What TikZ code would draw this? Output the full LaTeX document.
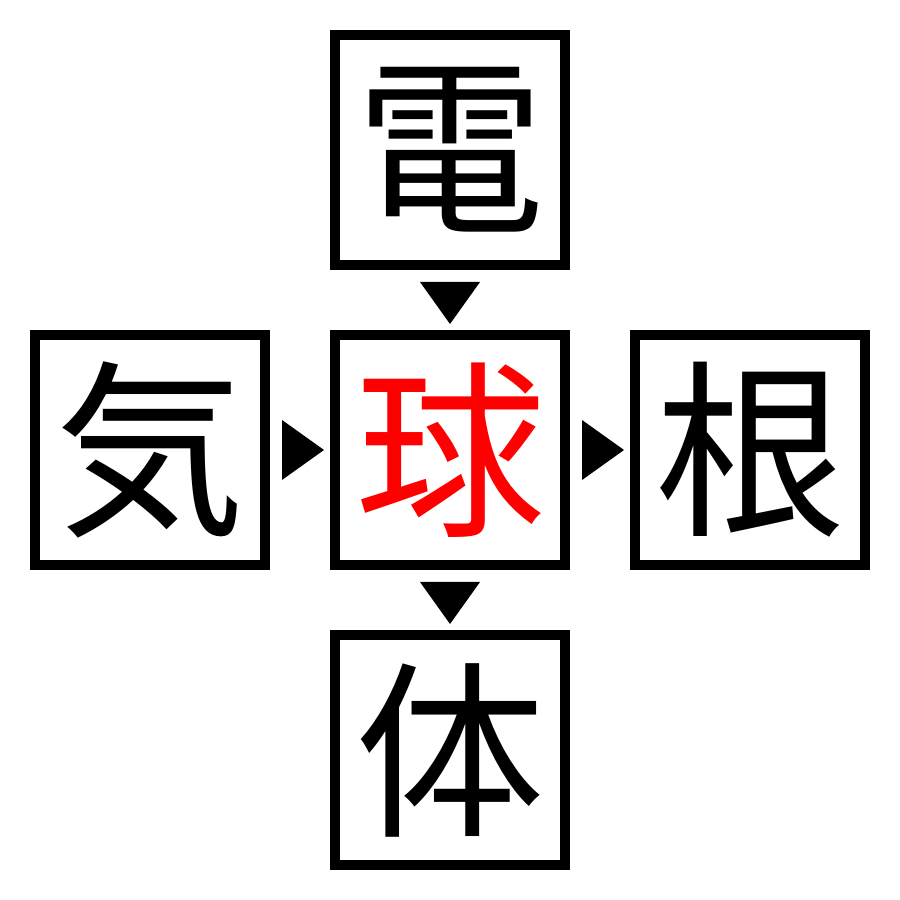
\documentclass[tikz,border=0pt]{standalone}
\usepackage{fontspec}
\newfontfamily\cjk{Noto Sans CJK JP}
\usetikzlibrary{positioning}
\tikzset{kj/.style = {rectangle, draw, line width=1mm, minimum size=2.3cm, inner sep=0pt,
                      font=\cjk\fontsize{54}{54}\selectfont},
         hub/.style = {kj, text=red}}

\begin{document}
\begin{tikzpicture}
    \useasboundingbox (0,0) rectangle (9,9);
    \node[kj]  (den)  at (4.5,7.5) {電};
    \node[kj]  (ki)   at (1.5,4.5) {気};
    \node[hub] (kyu)  at (4.5,4.5) {球};
    \node[kj]  (kon)  at (7.5,4.5) {根};
    \node[kj]  (tai)  at (4.5,1.5) {体};
    \fill ([yshift=-1.2mm]den.south) ++(-3mm,0) -- ++(6mm,0) -- ++(-3mm,-4.2mm) -- cycle;
    \fill ([xshift=1.2mm]ki.east) ++(0,3mm) -- ++(0,-6mm) -- ++(4.2mm,3mm) -- cycle;
    \fill ([xshift=1.2mm]kyu.east) ++(0,3mm) -- ++(0,-6mm) -- ++(4.2mm,3mm) -- cycle;
    \fill ([yshift=-1.2mm]kyu.south) ++(-3mm,0) -- ++(6mm,0) -- ++(-3mm,-4.2mm) -- cycle;
\end{tikzpicture}
\end{document}
